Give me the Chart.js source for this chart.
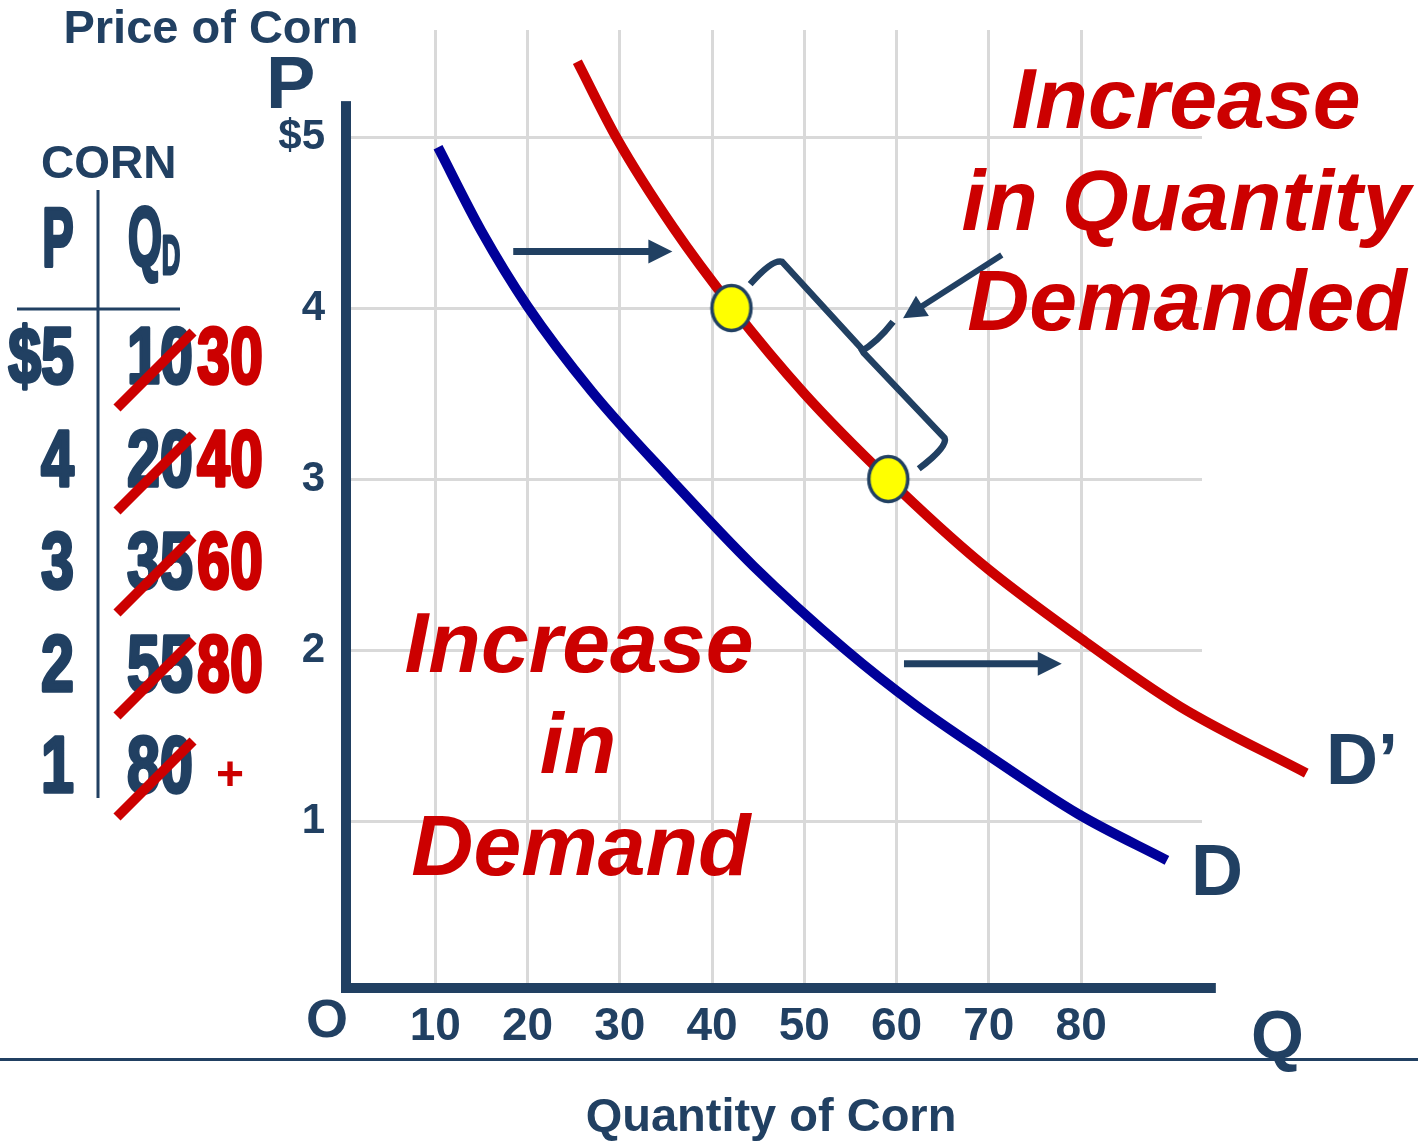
<!DOCTYPE html>
<html>
<head>
<meta charset="utf-8">
<title>Increase in Demand for Corn</title>
<script src="https://cdn.jsdelivr.net/npm/chart.js@4.4.1/dist/chart.umd.min.js"></script>
<style>
  html, body { margin: 0; padding: 0; background: #ffffff; }
  canvas { display: block; }
</style>
</head>
<body>
<canvas id="chart" width="1418" height="1141"></canvas>
<script>
// Original demand curve D (quantity, price)
const demandQ = [10.3, 15, 20, 27, 35.5, 44.5, 54.5, 62, 69.5, 79.7, 89.3];
const demandP = [4.94, 4.45, 4.01, 3.51, 3.00, 2.49, 2.00, 1.68, 1.40, 1.04, 0.77];

// Shifted demand curve D'
const shiftedQ = [25.4, 29.7, 35.8, 42.1, 50.0, 59.1, 69.1, 79.9, 90.7, 104.4];
const shiftedP = [5.44, 4.99, 4.47, 4.01, 3.50, 3.00, 2.51, 2.07, 1.67, 1.28];

// Movement along D' (highlighted points)
const movementQ = [42.1, 59.1];
const movementP = [4.0, 3.0];

// Axis ticks
const xTickValues = [10, 20, 30, 40, 50, 60, 70, 80];
const xTickLabels = ['10', '20', '30', '40', '50', '60', '70', '80'];
const yTickValues = [1, 2, 3, 4, 5];
const yTickLabels = ['1', '2', '3', '4', '$5'];

// Demand schedule for corn
const schedulePrice = ['$5', '4', '3', '2', '1'];
const scheduleOldQd = ['10', '20', '35', '55', '80'];
const scheduleNewQd = ['30', '40', '60', '80', '+'];

const NAVY = '#214062';
const RED = '#cc0000';
const BLUE = '#000099';
const GRID = '#d9d9d9';
const FAMILY = '"Liberation Sans", Arial, Helvetica, sans-serif';

// Yellow oval marker
const dot = document.createElement('canvas');
dot.width = 46; dot.height = 52;
(function () {
  const d = dot.getContext('2d');
  d.beginPath();
  d.ellipse(23, 26, 19.5, 22.5, 0, 0, Math.PI * 2);
  d.fillStyle = '#ffff00';
  d.fill();
  d.lineWidth = 3.5;
  d.strokeStyle = NAVY;
  d.stroke();
})();

function text(ctx, s, x, y, o) {
  ctx.save();
  ctx.translate(x, y);
  ctx.scale(o.sx || 1, 1);
  ctx.font = `${o.style || 'normal'} ${o.weight || 'bold'} ${o.size}px ${FAMILY}`;
  ctx.fillStyle = o.color;
  ctx.textAlign = o.align || 'left';
  ctx.textBaseline = o.baseline || 'alphabetic';
  ctx.fillText(s, 0, 0);
  if (o.heavy) {
    ctx.lineWidth = o.heavy;
    ctx.strokeStyle = o.color;
    ctx.lineJoin = 'round';
    ctx.strokeText(s, 0, 0);
  }
  ctx.restore();
}

function arrow(ctx, x1, y1, x2, y2, lw, L, W) {
  const a = Math.atan2(y2 - y1, x2 - x1);
  const c = Math.cos(a), s = Math.sin(a);
  const bx = x2 - L * c, by = y2 - L * s;
  ctx.save();
  ctx.strokeStyle = NAVY;
  ctx.fillStyle = NAVY;
  ctx.lineWidth = lw;
  ctx.beginPath();
  ctx.moveTo(x1, y1);
  ctx.lineTo(bx + 2 * c, by + 2 * s);
  ctx.stroke();
  ctx.beginPath();
  ctx.moveTo(x2, y2);
  ctx.lineTo(bx - W * s, by + W * c);
  ctx.lineTo(bx + W * s, by - W * c);
  ctx.closePath();
  ctx.fill();
  ctx.restore();
}

const decorations = {
  id: 'decorations',
  afterDraw(chart) {
    const ctx = chart.ctx;
    const xs = chart.scales.x, ys = chart.scales.y;
    const at = (q, p) => [xs.getPixelForValue(q), ys.getPixelForValue(p)];

    // Axes
    ctx.save();
    ctx.fillStyle = NAVY;
    const x0 = xs.getPixelForValue(0), y0 = ys.getPixelForValue(0);
    const yTop = ys.getPixelForValue(5.21);
    const xEnd = xs.getPixelForValue(94.6);
    ctx.fillRect(x0 - 2, yTop, 10, y0 - yTop + 1);
    ctx.fillRect(x0 - 2, y0 - 9, xEnd - x0 + 2, 10);
    ctx.restore();

    // Axis letters
    text(ctx, 'P', 266, 108, { size: 74, color: NAVY });
    text(ctx, 'O', 306, 1037, { size: 54, color: NAVY });
    text(ctx, 'Q', 1251, 1058, { size: 68, color: NAVY });

    // Curve names
    text(ctx, 'D\u2019', 1326, 784, { size: 72, color: NAVY });
    text(ctx, 'D', 1191, 895, { size: 72, color: NAVY });

    // Shift arrows
    let [a1, b1] = at(18.45, 4.33), [a2, b2] = at(35.7, 4.33);
    arrow(ctx, a1, b1, a2, b2, 7, 24, 12);
    [a1, b1] = at(60.8, 1.92); [a2, b2] = at(77.9, 1.92);
    arrow(ctx, a1, b1, a2, b2, 7, 24, 12);
    [a1, b1] = at(71.4, 4.31); [a2, b2] = at(60.7, 3.94);
    arrow(ctx, a1, b1, a2, b2, 6, 23, 12);

    // Brace along D'
    ctx.save();
    ctx.strokeStyle = NAVY;
    ctx.lineWidth = 6.5;
    ctx.lineJoin = 'round';
    ctx.lineCap = 'butt';
    const P = (q, p) => at(q, p);
    ctx.beginPath();
    ctx.moveTo(...P(44.13, 4.14));
    ctx.quadraticCurveTo(...P(46.6, 4.29), ...P(47.6, 4.27));
    ctx.lineTo(...P(56.26, 3.76));
    ctx.stroke();
    ctx.beginPath();
    ctx.moveTo(...P(56.0, 3.74));
    ctx.quadraticCurveTo(...P(57.9, 3.80), ...P(59.62, 3.92));
    ctx.stroke();
    ctx.beginPath();
    ctx.moveTo(...P(56.4, 3.74));
    ctx.lineTo(...P(65.2, 3.24));
    ctx.quadraticCurveTo(...P(65.6, 3.19), ...P(62.4, 3.06));
    ctx.stroke();
    ctx.restore();

    // Red headlines
    const big = { size: 86, style: 'italic', color: RED, align: 'center' };
    text(ctx, 'Increase', 1186, 128, big);
    text(ctx, 'in Quantity', 1186, 230, big);
    text(ctx, 'Demanded', 1187, 330, big);
    text(ctx, 'Increase', 579, 672, big);
    text(ctx, 'in', 578, 773, big);
    text(ctx, 'Demand', 581, 875, big);

    // Titles
    text(ctx, 'Price of Corn', 211, 43, { size: 47, color: NAVY, align: 'center' });
    text(ctx, 'Quantity of Corn', 771, 1131, { size: 47, color: NAVY, align: 'center' });
    ctx.save();
    ctx.fillStyle = NAVY;
    ctx.fillRect(0, 1058, chart.width, 3);
    ctx.restore();

    // Schedule table
    text(ctx, 'CORN', 41, 178, { size: 46, color: NAVY });
    text(ctx, 'P', 58, 266, { size: 84, color: NAVY, align: 'center', sx: 0.56, heavy: 4 });
    text(ctx, 'Q', 145, 266, { size: 84, color: NAVY, align: 'center', sx: 0.52, heavy: 4 });
    text(ctx, 'D', 171, 274, { size: 56, color: NAVY, align: 'center', sx: 0.46, heavy: 3 });
    ctx.save();
    ctx.fillStyle = NAVY;
    ctx.fillRect(96.5, 190, 3, 608);
    ctx.fillRect(17, 307.5, 163, 3);
    ctx.restore();

    const rowCenters = [354, 457, 559, 662, 763];
    const num = { size: 80, sx: 0.74, heavy: 3.5 };
    schedulePrice.forEach((s, i) => {
      text(ctx, s, 74, rowCenters[i] + 29, { ...num, color: NAVY, align: 'right' });
    });
    scheduleOldQd.forEach((s, i) => {
      text(ctx, s, 127, rowCenters[i] + 29, { ...num, color: NAVY });
    });
    scheduleNewQd.forEach((s, i) => {
      if (s === '+') {
        text(ctx, s, 230, rowCenters[i] + 14, { size: 48, color: RED, align: 'center', baseline: 'middle' });
      } else {
        text(ctx, s, 197, rowCenters[i] + 29, { ...num, color: RED });
      }
    });
    ctx.save();
    ctx.strokeStyle = RED;
    ctx.lineWidth = 10;
    rowCenters.forEach(c => {
      ctx.beginPath();
      ctx.moveTo(117, c + 54);
      ctx.lineTo(193, c - 22);
      ctx.stroke();
    });
    ctx.restore();
  }
};

const tickFont = (size) => ({ family: FAMILY, size, weight: 'bold' });

new Chart(document.getElementById('chart'), {
  type: 'scatter',
  data: {
    datasets: [
      {
        label: 'D',
        data: demandQ.map((q, i) => ({ x: q, y: demandP[i] })),
        showLine: true,
        borderColor: BLUE,
        borderWidth: 10,
        pointRadius: 0,
        cubicInterpolationMode: 'monotone',
        clip: false,
        order: 2
      },
      {
        label: 'D\u2019',
        data: shiftedQ.map((q, i) => ({ x: q, y: shiftedP[i] })),
        showLine: true,
        borderColor: RED,
        borderWidth: 10,
        pointRadius: 0,
        cubicInterpolationMode: 'monotone',
        clip: false,
        order: 1
      },
      {
        label: 'Quantity demanded',
        data: movementQ.map((q, i) => ({ x: q, y: movementP[i] })),
        showLine: false,
        pointStyle: dot,
        pointRadius: 20,
        clip: false,
        order: 0
      }
    ]
  },
  options: {
    responsive: false,
    animation: false,
    devicePixelRatio: 1,
    events: [],
    layout: { padding: { top: 30, right: 216, left: 0, bottom: 0 } },
    plugins: { legend: { display: false }, tooltip: { enabled: false } },
    scales: {
      x: {
        type: 'linear',
        min: 0,
        max: 93.1,
        border: { display: false },
        grid: { color: GRID, lineWidth: 3, drawTicks: false },
        afterBuildTicks: (s) => { s.ticks = xTickValues.map(v => ({ value: v })); },
        afterFit: (s) => { s.height = 149; s.paddingLeft = 0; s.paddingRight = 0; },
        ticks: {
          padding: 8,
          color: NAVY,
          font: tickFont(46),
          maxRotation: 0,
          autoSkip: false,
          callback: (v, i) => xTickLabels[i]
        }
      },
      y: {
        type: 'linear',
        min: 0,
        max: 5.626,
        border: { display: false },
        grid: { color: GRID, lineWidth: 3, drawTicks: false },
        afterBuildTicks: (s) => { s.ticks = yTickValues.map(v => ({ value: v })); },
        afterFit: (s) => { s.width = 343; s.paddingTop = 0; s.paddingBottom = 0; },
        ticks: {
          padding: 18,
          color: NAVY,
          font: tickFont(42),
          autoSkip: false,
          callback: (v, i) => yTickLabels[i]
        }
      }
    }
  },
  plugins: [decorations]
});
</script>
</body>
</html>
